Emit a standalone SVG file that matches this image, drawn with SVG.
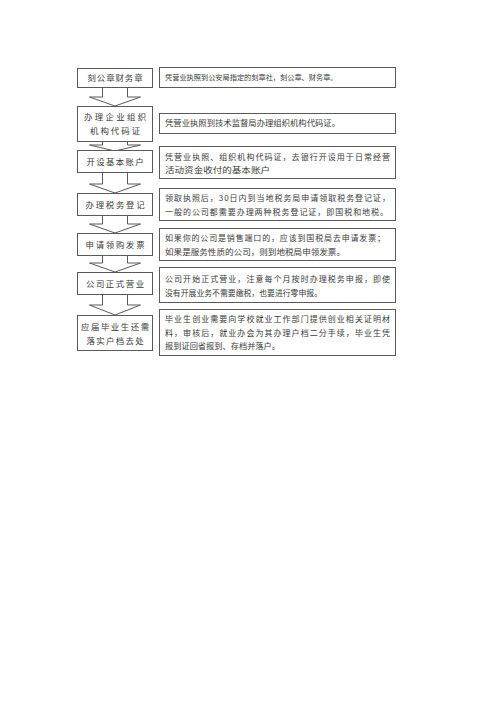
<svg xmlns="http://www.w3.org/2000/svg" width="500" height="708" viewBox="0 0 500 708">
<style>
.bx{fill:#fff;stroke:#5a5a5a;stroke-width:1}
.ar{fill:#fff;stroke:#5a5a5a;stroke-width:1;stroke-linejoin:miter}
text{font-family:"Noto Sans CJK SC","Noto Sans CJK JP",sans-serif;font-size:8px;fill:#3a3a3a}
.c{text-anchor:middle;font-size:8.4px}
.s{font-size:7.2px}
.m{font-size:7.6px}
</style>
<rect width="500" height="708" fill="#fff"/>
<g id="connectors">
<polygon class="ar" points="102.5,87 127.5,87 127.5,97 140.5,97 115,106 89.5,97 102.5,97"/>
<polygon class="ar" points="102.5,141 127.5,141 127.5,145 140.5,145 115,151 89.5,145 102.5,145"/>
<polygon class="ar" points="102.5,172 127.5,172 127.5,184 140.5,184 115,193 89.5,184 102.5,184"/>
<polygon class="ar" points="102.5,215 127.5,215 127.5,224 140.5,224 115,233 89.5,224 102.5,224"/>
<polygon class="ar" points="102.5,255 127.5,255 127.5,263 140.5,263 115,272 89.5,263 102.5,263"/>
<polygon class="ar" points="102.5,294 127.5,294 127.5,305 140.5,305 115,315 89.5,305 102.5,305"/>
</g>
<g id="n1"><rect class="bx" x="77.5" y="68.5" width="75" height="19"/><text class="c" x="115" y="81" textLength="55">刻公章财务章</text></g>
<g id="n2"><rect class="bx" x="77.5" y="106.5" width="75" height="35"/><text class="c" x="115" y="120" textLength="62">办理企业组织</text><text class="c" x="115" y="134" textLength="50">机构代码证</text></g>
<g id="n3"><rect class="bx" x="77.5" y="150.5" width="75" height="22"/><text class="c" x="115" y="164.5" textLength="57">开设基本账户</text></g>
<g id="n4"><rect class="bx" x="77.5" y="193.5" width="75" height="22"/><text class="c" x="115" y="207.5" textLength="59">办理税务登记</text></g>
<g id="n5"><rect class="bx" x="77.5" y="233.5" width="75" height="22"/><text class="c" x="115" y="247.5" textLength="59">申请领购发票</text></g>
<g id="n6"><rect class="bx" x="77.5" y="272.5" width="75" height="22"/><text class="c" x="115" y="286.5" textLength="58">公司正式营业</text></g>
<g id="n7"><rect class="bx" x="77.5" y="315.5" width="75" height="35"/><text class="c" x="115" y="330" textLength="68">应届毕业生还需</text><text class="c" x="115" y="344" textLength="57">落实户档去处</text></g>
<g id="r1"><rect class="bx" x="159.5" y="67.5" width="236" height="20"/><text class="s" x="165" y="80">凭营业执照到公安局指定的刻章社，刻公章、财务章。</text></g>
<g id="r2"><rect class="bx" x="159.5" y="113.5" width="236" height="20"/><text class="m" x="165" y="126" textLength="175" lengthAdjust="spacingAndGlyphs">凭营业执照到技术监督局办理组织机构代码证。</text></g>
<g id="r3"><rect class="bx" x="159.5" y="146.5" width="236" height="32"/><text x="165" y="160" textLength="225">凭营业执照、组织机构代码证，去银行开设用于日常经营</text><text x="165" y="173" textLength="105" lengthAdjust="spacingAndGlyphs">活动资金收付的基本账户</text></g>
<g id="r4"><rect class="bx" x="159.5" y="188.5" width="236" height="32"/><text x="165" y="201" textLength="225">领取执照后，30日内到当地税务局申请领取税务登记证，</text><text x="165" y="214.5" textLength="223">一般的公司都需要办理两种税务登记证，即国税和地税。</text></g>
<g id="r5"><rect class="bx" x="159.5" y="228.5" width="236" height="32"/><text x="165" y="241" textLength="220">如果你的公司是销售端口的，应该到国税局去申请发票；</text><text x="165" y="254.5" textLength="180" lengthAdjust="spacingAndGlyphs">如果是服务性质的公司，则到地税局申领发票。</text></g>
<g id="r6"><rect class="bx" x="159.5" y="267.5" width="236" height="35"/><text x="165" y="282" textLength="225">公司开始正式营业，注意每个月按时办理税务申报，即使</text><text x="165" y="296" textLength="157" lengthAdjust="spacingAndGlyphs">没有开展业务不需要缴税，也要进行零申报。</text></g>
<g id="r7"><rect class="bx" x="159.5" y="309.5" width="236" height="46"/><text x="165" y="322" textLength="225">毕业生创业需要向学校就业工作部门提供创业相关证明材</text><text x="165" y="335.5" textLength="225">料，审核后，就业办会为其办理户档二分手续，毕业生凭</text><text x="165" y="349" textLength="115" lengthAdjust="spacingAndGlyphs">报到证回省报到、存档并落户。</text></g>
</svg>
